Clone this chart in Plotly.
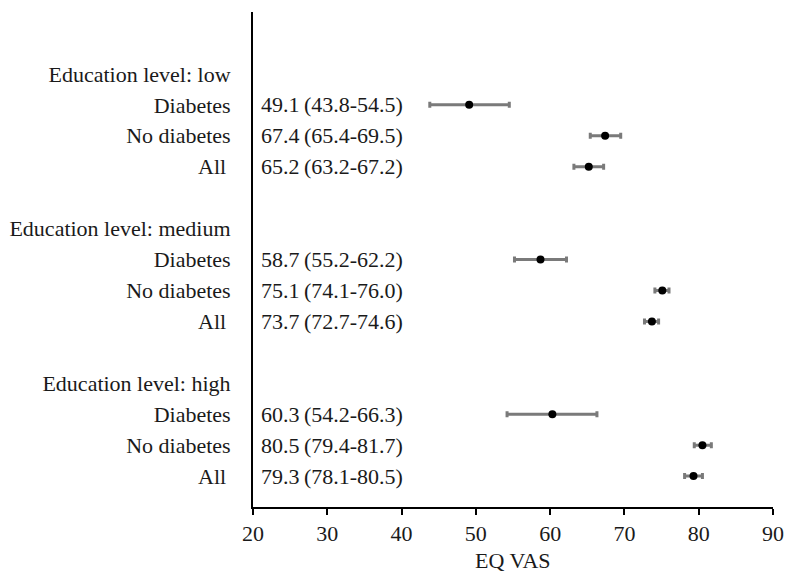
import plotly.graph_objects as go

# ---- data ----
headers = ["Education level: low", "Education level: medium", "Education level: high"]
subgroups = ["Diabetes", "No diabetes", "All\u2009"]
means = [49.1, 67.4, 65.2, 58.7, 75.1, 73.7, 60.3, 80.5, 79.3]
lower = [43.8, 65.4, 63.2, 55.2, 74.1, 72.7, 54.2, 79.4, 78.1]
upper = [54.5, 69.5, 67.2, 62.2, 76.0, 74.6, 66.3, 81.7, 80.5]
x_ticks = [20, 30, 40, 50, 60, 70, 80, 90]
x_title = "EQ VAS"

FONT = "Liberation Serif"
TXT = "#1a1a1a"

# row layout: header row, then 3 subgroup rows, then a blank gap row
row_pos, row_lab = [], []
pt_y = []
k = 1
for h in headers:
    row_pos.append(k); row_lab.append(h)
    k += 1
    for s in subgroups:
        row_pos.append(k); row_lab.append(s)
        pt_y.append(k)
        k += 1
    k += 1

est_txt = [f"{m:.1f}\u2009({lo:.1f}-{hi:.1f})" for m, lo, hi in zip(means, lower, upper)]

fig = go.Figure()
fig.add_trace(go.Scatter(
    x=means, y=pt_y, mode="markers",
    marker=dict(color="black", size=8),
    error_x=dict(type="data", symmetric=False,
                 array=[u - m for u, m in zip(upper, means)],
                 arrayminus=[m - l for m, l in zip(means, lower)],
                 color="#7a7a7a", thickness=3, width=3),
    showlegend=False, hoverinfo="skip",
))

for yv, t in zip(pt_y, est_txt):
    fig.add_annotation(x=x_ticks[0], y=yv, xref="x", yref="y", text=t,
                       showarrow=False, xanchor="left", yanchor="middle",
                       xshift=6, font=dict(family=FONT, size=22, color=TXT))

# axis title as annotation so it can sit near the bottom edge like the reference
fig.add_annotation(x=0.5, y=0, xref="paper", yref="paper", text=x_title,
                   showarrow=False, xanchor="center", yanchor="top",
                   yshift=-40, borderpad=0,
                   font=dict(family=FONT, size=22, color=TXT))

fig.update_layout(
    width=786, height=574,
    margin=dict(l=253, r=13, t=12, b=67),
    paper_bgcolor="white", plot_bgcolor="white",
    font=dict(family=FONT, size=22, color=TXT),
    xaxis=dict(range=[x_ticks[0], x_ticks[-1]], tickvals=x_ticks,
               showline=True, linecolor="black", linewidth=2,
               ticks="outside", ticklen=6, tickwidth=2, tickcolor="black",
               showgrid=False, zeroline=False, automargin=False,
               tickfont=dict(family=FONT, size=22, color=TXT)),
    yaxis=dict(range=[15, -1], tickvals=row_pos, ticktext=row_lab,
               showline=True, linecolor="black", linewidth=2,
               ticks="", showgrid=False, zeroline=False, automargin=False,
               ticklabelstandoff=16,
               tickfont=dict(family=FONT, size=22, color=TXT)),
)

fig.write_html("out.html")
